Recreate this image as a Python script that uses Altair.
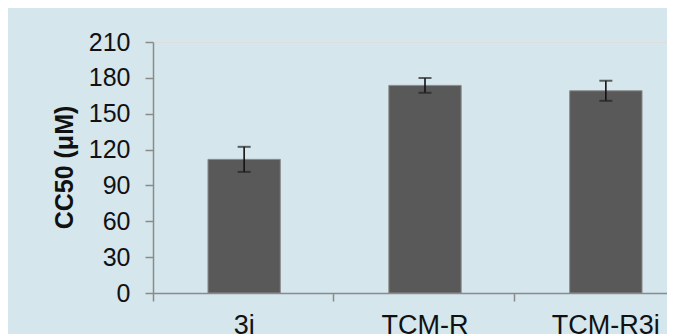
import altair as alt
import pandas as pd

categories = ["3i", "TCM-R", "TCM-R3i"]
cc50 = [111.8, 173.7, 169.2]
err = [10.5, 6.2, 8.4]
y_ticks = [0, 30, 60, 90, 120, 150, 180, 210]

df = pd.DataFrame({"compound": categories, "cc50": cc50, "err": err})
df["lo"] = df["cc50"] - df["err"]
df["hi"] = df["cc50"] + df["err"]

AXIS_GRAY = "#8a8a8a"
FONT = "Liberation Sans"

x_axis = alt.Axis(labelAngle=0, bandPosition=-0.76, grid=False)
x_scale = alt.Scale(range=[0, 544], paddingInner=0.6, paddingOuter=0.304)
y_axis = alt.Axis(values=y_ticks, labelOverlap=False, grid=False)
y_scale = alt.Scale(domain=[0, 210], nice=False)
Y_TITLE = "CC50 (μM)"

base = alt.Chart(df).encode(
    x=alt.X("compound:N", sort=categories, title=None, scale=x_scale, axis=x_axis)
)

bars = base.mark_bar(color="#595959", stroke="#8c8c8c", strokeWidth=1).encode(
    y=alt.Y("cc50:Q", scale=y_scale, title=Y_TITLE, axis=y_axis),
)

rules = base.mark_rule(color="#111111", strokeWidth=1.6).encode(
    y=alt.Y("lo:Q", scale=y_scale, title=Y_TITLE, axis=y_axis),
    y2="hi:Q",
)

cap_lo = base.mark_tick(color="#222222", size=13, thickness=2).encode(
    y=alt.Y("lo:Q", scale=y_scale, title=Y_TITLE, axis=y_axis),
)
cap_hi = base.mark_tick(color="#222222", size=13, thickness=2).encode(
    y=alt.Y("hi:Q", scale=y_scale, title=Y_TITLE, axis=y_axis),
)

chart = (
    alt.layer(bars, rules, cap_lo, cap_hi)
    .properties(
        width=514,
        height=251,
        autosize=alt.AutoSizeParams(type="none"),
        padding={"left": 145, "top": 34, "right": 0, "bottom": 41},
        background="#d5e6ec",
    )
    .configure_view(stroke="transparent", strokeWidth=0)
    .configure(font=FONT)
    .configure_axis(
        grid=False,
        tickSize=8,
        tickWidth=1.5,
        tickColor=AXIS_GRAY,
        domainColor=AXIS_GRAY,
        domainWidth=1.5,
        labelFont=FONT,
        labelColor="#111111",
        labelOverlap=False,
        labelFlush=False,
        titleFont=FONT,
        titleColor="#111111",
    )
    .configure_axisX(labelFontSize=27, labelPadding=11)
    .configure_axisY(
        labelFontSize=25,
        labelPadding=15,
        titleFontSize=25,
        titleFontWeight="bold",
        titleAngle=270,
        titleX=-89,
        titleY=125,
        titleBaseline="middle",
        titleAlign="center",
    )
)

chart.save("out.html", embed_options={"renderer": "svg", "actions": False})
